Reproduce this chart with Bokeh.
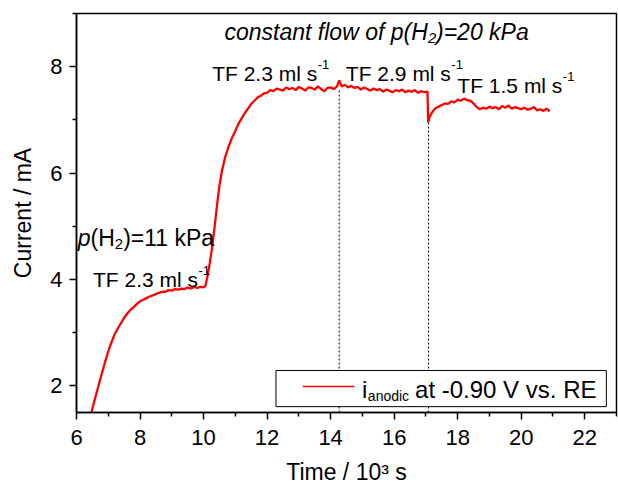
from bokeh.plotting import figure
from bokeh.models import Range1d, FixedTicker, Label, BoxAnnotation
from bokeh.embed import file_html
from bokeh.resources import INLINE

# ---------------- data ----------------
time_ks = [
    6.47, 6.60, 6.75, 6.90, 7.05, 7.20, 7.35, 7.50, 7.60, 7.70, 7.80, 7.90,
    8.00, 8.10, 8.20, 8.30, 8.40, 8.50, 8.60, 8.70, 8.80, 8.90, 9.00, 9.10,
    9.20, 9.30, 9.40, 9.50, 9.60, 9.70, 9.80, 9.90, 10.00, 10.06,
    10.12, 10.20, 10.27, 10.35, 10.43, 10.50, 10.58, 10.68, 10.79, 10.90,
    11.00, 11.10, 11.20, 11.30, 11.42, 11.50, 11.60, 11.70, 11.84, 11.90,
    12.00, 12.10, 12.20, 12.30, 12.40, 12.50, 12.60, 12.70, 12.80, 12.90,
    13.00, 13.10, 13.20, 13.30, 13.40, 13.50, 13.60, 13.70, 13.80, 13.90,
    14.00, 14.10, 14.20, 14.27, 14.35, 14.45, 14.55, 14.65, 14.75, 14.85,
    14.95, 15.05, 15.15, 15.25, 15.35, 15.45, 15.55, 15.65, 15.75, 15.85,
    15.95, 16.05, 16.15, 16.25, 16.35, 16.45, 16.55, 16.65, 16.75, 16.85,
    16.95, 17.05, 17.07, 17.12, 17.20, 17.30, 17.40, 17.50, 17.60, 17.70,
    17.80, 17.90, 18.00, 18.10, 18.20, 18.30, 18.40, 18.50, 18.60, 18.70,
    18.80, 18.90, 19.00, 19.10, 19.20, 19.30, 19.40, 19.50, 19.60, 19.70,
    19.80, 19.90, 20.00, 20.10, 20.20, 20.30, 20.40, 20.50, 20.60, 20.70,
    20.80, 20.90,
]
current_ma = [
    1.50, 1.80, 2.13, 2.45, 2.74, 2.97, 3.13, 3.28, 3.36, 3.43, 3.48, 3.54,
    3.59, 3.62, 3.65, 3.68, 3.70, 3.73, 3.75, 3.77, 3.77, 3.80, 3.79, 3.82,
    3.81, 3.83, 3.82, 3.85, 3.83, 3.86, 3.84, 3.86, 3.85, 3.88,
    4.05, 4.32, 4.61, 5.00, 5.43, 5.76, 6.05, 6.30, 6.50, 6.67,
    6.79, 6.93, 7.03, 7.13, 7.23, 7.30, 7.36, 7.42, 7.47, 7.50,
    7.51, 7.56, 7.54, 7.59, 7.57, 7.55, 7.61, 7.58, 7.60, 7.56,
    7.62, 7.59, 7.55, 7.61, 7.60, 7.57, 7.63, 7.58, 7.54, 7.60,
    7.61, 7.58, 7.63, 7.74, 7.63, 7.66, 7.61, 7.64, 7.60, 7.62,
    7.57, 7.61, 7.58, 7.55, 7.59, 7.56, 7.58, 7.53, 7.57, 7.55,
    7.52, 7.56, 7.54, 7.57, 7.52, 7.55, 7.53, 7.56, 7.51, 7.54,
    7.52, 7.53, 6.95, 7.06, 7.15, 7.22, 7.25, 7.28, 7.31, 7.30,
    7.35, 7.33, 7.38, 7.36, 7.40, 7.37, 7.36, 7.31, 7.24, 7.20,
    7.23, 7.21, 7.25, 7.22, 7.24, 7.20, 7.26, 7.23, 7.27, 7.21,
    7.24, 7.22, 7.20, 7.23, 7.19, 7.21, 7.24, 7.18, 7.20, 7.17,
    7.21, 7.16,
]

# flow switch events (dotted markers)
event_time = [14.27, 17.08]
event_current = [7.56, 6.95]

x_ticks = [6, 8, 10, 12, 14, 16, 18, 20, 22]
x_minor = [7, 9, 11, 13, 15, 17, 19, 21, 23]
y_ticks = [2, 4, 6, 8]
y_minor = [3, 5, 7, 9]

X_MIN, X_MAX = 6, 23
Y_MIN, Y_MAX = 1.5, 9

FONT = "Liberation Sans"
BASE_DY = 5  # lift labels so their baselines sit where the reference has them

p = figure(width=618, height=487, x_range=Range1d(X_MIN, X_MAX),
           y_range=Range1d(Y_MIN, Y_MAX), output_backend="svg",
           toolbar_location=None, min_border_left=76, min_border_right=2,
           min_border_top=13, min_border_bottom=74)
p.grid.visible = False
p.background_fill_color = "white"
p.border_fill_color = "white"
p.outline_line_color = "black"
p.outline_line_width = 1.5
p.outline_line_alpha = 1.0

for ax in (p.xaxis[0], p.yaxis[0]):
    ax.axis_line_width = 1.5
    ax.axis_line_color = "black"
    ax.major_tick_line_width = 1.5
    ax.minor_tick_line_width = 1.5
    ax.major_tick_in = 0
    ax.major_tick_out = 7
    ax.minor_tick_in = 0
    ax.minor_tick_out = 4
    ax.major_label_text_font = FONT
    ax.major_label_text_font_size = "22px"
    ax.major_label_text_color = "black"
    ax.axis_label_text_font = FONT
    ax.axis_label_text_font_size = "23px"
    ax.axis_label_text_font_style = "normal"
    ax.axis_label_text_color = "black"

p.xaxis.ticker = FixedTicker(ticks=x_ticks, minor_ticks=x_minor)
p.yaxis.ticker = FixedTicker(ticks=y_ticks, minor_ticks=y_minor)
p.xaxis.major_label_standoff = 10
p.xaxis.axis_label_standoff = 11
p.yaxis.major_label_standoff = 7
p.yaxis.axis_label_standoff = 11
p.xaxis.axis_label = "Time / 10³ s"
p.yaxis.axis_label = "Current / mA"

# dotted markers at the flow changes
p.segment(x0=event_time, y0=[Y_MIN] * len(event_time), x1=event_time,
          y1=event_current, line_color="black", line_width=1, line_dash="2 2")

# data curve
p.line(time_ks, current_ma, line_color="red", line_width=2.3)


def add_text(x, y, text, size=21, italic=False, dx=0, dy=0, align="left"):
    p.add_layout(Label(x=x, y=y, text=text, x_offset=dx, y_offset=dy + BASE_DY,
                       text_font=FONT, text_font_size=f"{size}px",
                       text_font_style="italic" if italic else "normal",
                       text_baseline="alphabetic", text_align=align,
                       text_color="black"))


def tf_label(x, y, rate):
    add_text(x, y, f"TF {rate} ml s")
    add_text(x, y, "-1", size=13, dx=105.5, dy=9)


# title-like annotation
add_text(10.66, 8.55, "constant flow of p(H", size=23, italic=True)
add_text(10.66, 8.55, "2", size=15, italic=True, dx=203.5, dy=-6)
add_text(10.66, 8.55, ")=20 kPa", size=23, italic=True, dx=211.5)

tf_label(10.27, 7.78, "2.3")
tf_label(14.48, 7.78, "2.9")
tf_label(17.99, 7.55, "1.5")

add_text(6.04, 4.68, "p", size=23, italic=True)
add_text(6.04, 4.68, "(H", size=23, dx=12.8)
add_text(6.04, 4.68, "2", size=15, dx=37.1, dy=-6)
add_text(6.04, 4.68, ")=11 kPa", size=23, dx=45.4)
tf_label(6.52, 3.90, "2.3")

# legend (drawn by hand because of the subscript)
p.add_layout(BoxAnnotation(left=12.28, right=22.68, bottom=1.61, top=2.29,
                           fill_color="white", fill_alpha=1.0,
                           line_color="black", line_width=1, line_alpha=1.0))
p.segment(x0=[13.12], y0=[1.99], x1=[14.75], y1=[1.99], line_color="red",
          line_width=1.5, level="overlay")
add_text(14.99, 1.83, "i", size=24)
add_text(14.99, 1.83, "anodic", size=14, dx=5.8, dy=-6)
add_text(14.99, 1.83, "at -0.90 V vs. RE", size=24, dx=53)

open("out.html", "w").write(file_html(p, INLINE))
